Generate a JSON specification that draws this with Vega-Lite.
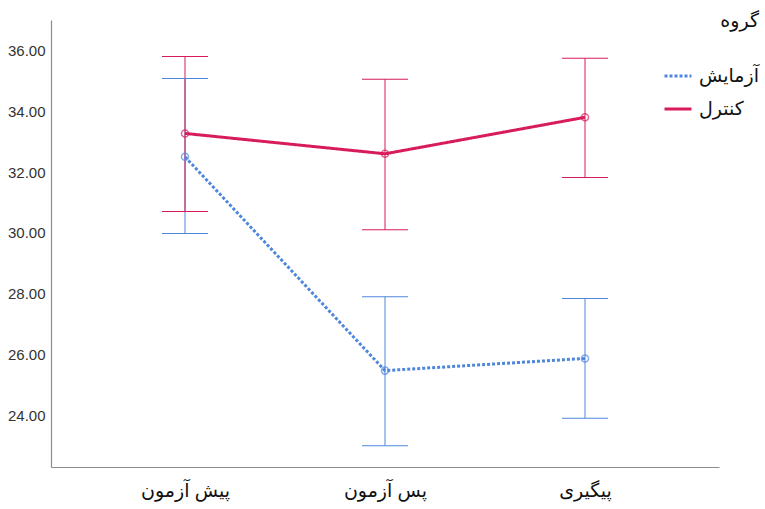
{
  "$schema": "https://vega.github.io/schema/vega-lite/v6.json",
  "autosize": {"type": "none"},
  "padding": {"left": 51, "top": 20, "right": 46, "bottom": 42},
  "width": 668,
  "height": 447,
  "background": "white",
  "config": {
    "view": {"stroke": null},
    "font": "Arial, Liberation Sans, DejaVu Sans",
    "axis": {"grid": false, "ticks": false, "domainColor": "#8c8c8c", "domainWidth": 1.2, "title": null}
  },
  "data": {
    "values": [
      {"group": "آزمایش", "time": "پیش آزمون", "mean": 32.5, "lo": 29.98, "hi": 35.08},
      {"group": "آزمایش", "time": "پس آزمون", "mean": 25.47, "lo": 23.0, "hi": 27.9},
      {"group": "آزمایش", "time": "پیگیری", "mean": 25.87, "lo": 23.9, "hi": 27.84},
      {"group": "کنترل", "time": "پیش آزمون", "mean": 33.27, "lo": 30.7, "hi": 35.8},
      {"group": "کنترل", "time": "پس آزمون", "mean": 32.6, "lo": 30.1, "hi": 35.05},
      {"group": "کنترل", "time": "پیگیری", "mean": 33.8, "lo": 31.82, "hi": 35.74}
    ]
  },
  "encoding": {
    "x": {
      "field": "time", "type": "ordinal",
      "sort": ["پیش آزمون", "پس آزمون", "پیگیری"],
      "scale": {"type": "point", "padding": 0.67},
      "axis": {"labelAngle": 0, "labelFontSize": 19, "labelColor": "#111", "labelPadding": 14}
    },
    "color": {
      "field": "group", "type": "nominal",
      "scale": {"domain": ["آزمایش", "کنترل"], "range": ["#4f86dd", "#d81b5c"]},
      "legend": {
        "title": "گروه",
        "orient": "none",
        "legendX": 612,
        "legendY": -8,
        "titleFontSize": 19,
        "titleFontWeight": "normal",
        "titleColor": "#111",
        "titleAnchor": "end",
        "titlePadding": 30,
        "labelFontSize": 19,
        "labelColor": "#111",
        "labelOffset": 6,
        "symbolType": "stroke",
        "symbolSize": 729,
        "symbolStrokeWidth": 3,
        "rowPadding": 8
      }
    }
  },
  "layer": [
    {
      "mark": {"type": "rule", "strokeWidth": 1, "opacity": 1},
      "encoding": {
        "y": {"field": "lo", "type": "quantitative"},
        "y2": {"field": "hi"}
      }
    },
    {
      "mark": {"type": "tick", "thickness": 1, "size": 46, "orient": "horizontal", "opacity": 1},
      "encoding": {"y": {"field": "lo", "type": "quantitative"}}
    },
    {
      "mark": {"type": "tick", "thickness": 1, "size": 46, "orient": "horizontal", "opacity": 1},
      "encoding": {"y": {"field": "hi", "type": "quantitative"}}
    },
    {
      "mark": {"type": "line", "strokeWidth": 3},
      "encoding": {
        "y": {
          "field": "mean", "type": "quantitative",
          "scale": {"domain": [22.3, 37.0], "nice": false, "zero": false},
          "axis": {"values": [24, 26, 28, 30, 32, 34, 36], "format": ".2f", "labelFontSize": 15, "labelColor": "#333", "labelPadding": 6}
        },
        "strokeDash": {
          "field": "group", "type": "nominal",
          "scale": {"domain": ["آزمایش", "کنترل"], "range": [[3, 2], [1, 0]]},
          "legend": null
        }
      }
    },
    {
      "mark": {"type": "point", "filled": false, "size": 50, "strokeWidth": 1.5},
      "encoding": {"y": {"field": "mean", "type": "quantitative"}}
    }
  ]
}
